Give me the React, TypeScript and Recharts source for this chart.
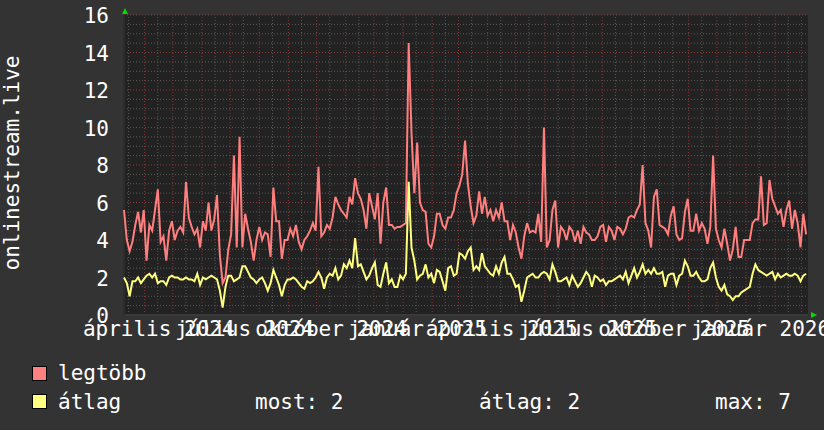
import React from "react";
import { LineChart, Line, XAxis, YAxis, CartesianGrid, ReferenceLine } from "recharts";

// ---- data (one sample every 3 days, starting 2024-03-10) ----
const STEP_DAYS = 3;

const legtobb = [
  5.6, 4.0, 3.4, 3.9, 4.8, 5.5, 4.4, 5.6, 2.9, 4.8,
  4.5, 5.6, 6.7, 3.9, 4.2, 2.9, 4.5, 5.0, 4.0, 4.5,
  4.7, 4.4, 7.1, 5.2, 4.7, 4.3, 4.6, 3.6, 5.0, 4.5,
  6.0, 4.5, 5.1, 6.4, 3.2, 1.7, 2.0, 3.5, 4.3, 8.5,
  3.6, 9.5, 3.6, 5.4, 4.6, 3.9, 2.9, 4.0, 4.7, 4.0,
  4.4, 4.3, 3.1, 6.8, 5.0, 5.0, 3.0, 4.0, 4.0, 4.6,
  4.2, 4.8, 3.9, 3.5, 4.0, 4.2, 4.5, 4.9, 4.5, 7.9,
  4.2, 4.4, 4.8, 4.6, 5.2, 6.3, 5.9, 5.6, 5.4, 5.2,
  6.3, 5.9, 7.3, 6.5, 6.2, 5.6, 4.6, 6.5, 5.8, 5.1,
  6.5, 3.8, 6.0, 6.8, 4.8, 4.8, 4.6, 4.7, 4.7, 4.8,
  4.9, 14.5, 9.7, 6.5, 9.2, 6.0, 5.6, 5.5, 3.8, 3.6,
  4.2, 5.4, 5.4, 4.8, 4.6, 5.2, 5.2, 5.6, 6.5, 6.9,
  7.5, 9.3, 7.0, 5.8, 4.9, 5.3, 6.6, 5.4, 6.3, 5.3,
  5.6, 5.0, 5.6, 5.2, 6.0, 5.0, 5.0, 4.0, 4.8, 4.4,
  3.6, 3.0, 4.2, 4.9, 4.4, 4.5, 4.4, 5.4, 3.9, 10.0,
  3.6, 4.0, 5.6, 6.1, 3.6, 4.7, 4.5, 4.0, 4.7, 4.5,
  3.9, 4.5, 3.8, 4.7, 4.4, 4.3, 4.0, 4.0, 4.2, 4.7,
  4.8, 3.9, 4.7, 4.5, 4.0, 4.7, 4.6, 4.3, 4.6, 5.2,
  5.3, 5.2, 5.6, 5.9, 8.0, 4.9, 4.5, 3.6, 6.3, 6.7,
  4.8, 4.7, 4.6, 4.3, 5.3, 5.8, 4.3, 4.0, 4.1, 5.5,
  6.2, 4.5, 4.5, 5.4, 4.5, 4.9, 4.6, 3.8, 4.7, 8.5,
  4.6, 4.0, 3.6, 4.6, 3.8, 2.9, 3.5, 4.7, 3.1, 3.1,
  4.0, 4.0, 4.0, 4.9, 5.1, 5.1, 7.4, 4.8, 4.9, 7.2,
  6.2, 5.8, 5.4, 5.6, 4.7, 5.6, 6.1, 4.6, 5.6, 4.9,
  3.6, 5.4, 4.3,
];

const atlag = [
  2.0, 1.7, 1.0, 1.8, 1.8, 2.0, 1.7, 1.9, 2.1, 2.2,
  2.0, 2.2, 1.7, 1.8, 1.8, 1.6, 2.0, 2.1, 2.0, 2.0,
  1.9, 1.9, 2.0, 1.9, 1.9, 1.8, 2.2, 1.6, 2.0, 1.9,
  2.0, 2.1, 2.0, 1.9, 1.3, 0.4, 1.5, 2.1, 2.1, 1.8,
  1.9, 2.0, 2.6, 2.6, 2.3, 2.0, 1.9, 1.7, 1.9, 2.0,
  1.7, 1.3, 1.7, 2.4, 2.0, 1.6, 1.0, 1.6, 1.9, 1.9,
  2.0, 1.9, 1.7, 1.5, 1.4, 1.8, 1.7, 1.8, 2.0, 2.3,
  2.0, 1.4, 2.0, 2.2, 2.1, 2.5, 1.9, 2.1, 2.7, 2.5,
  2.9, 2.5, 4.1, 2.6, 2.7, 2.3, 1.9, 2.1, 2.5, 2.8,
  1.6, 1.5, 2.2, 2.8, 1.7, 1.9, 1.5, 1.5, 2.1, 1.9,
  2.2, 7.1, 3.6, 2.9, 1.9, 2.1, 2.2, 2.7, 2.0, 2.2,
  1.7, 2.4, 2.3, 1.8, 1.3, 2.5, 2.6, 2.1, 2.2, 3.3,
  3.2, 3.0, 3.4, 3.6, 2.4, 2.6, 2.4, 3.3, 2.6, 2.4,
  2.2, 2.1, 2.6, 2.2, 2.8, 3.1, 2.2, 2.2, 1.9, 1.5,
  1.6, 0.7, 1.3, 2.0, 2.1, 2.2, 2.0, 2.0, 2.2, 2.3,
  2.2, 1.9, 2.7, 2.3, 1.8, 1.8, 1.9, 2.0, 1.6, 2.1,
  1.8, 1.5, 1.7, 2.0, 2.3, 2.1, 1.5, 2.1, 2.0, 1.8,
  1.9, 1.6, 1.8, 1.8, 1.9, 2.0, 2.1, 1.9, 2.3, 1.7,
  2.1, 2.5, 2.0, 2.3, 2.7, 2.2, 2.4, 2.2, 2.5, 2.2,
  2.2, 2.3, 1.5, 2.1, 2.2, 2.2, 1.6, 2.1, 2.2, 2.9,
  2.6, 2.1, 2.1, 2.3, 2.0, 1.8, 1.8, 1.9, 2.5, 2.8,
  2.0, 1.5, 1.3, 1.6, 1.1, 1.0, 0.8, 1.0, 1.0, 1.2,
  1.3, 1.4, 1.5, 2.2, 2.7, 2.4, 2.3, 2.2, 2.1, 2.2,
  2.3, 1.9, 2.2, 2.0, 2.1, 2.2, 2.1, 2.1, 2.2, 2.1,
  1.8, 2.1, 2.2,
];

// time axis (days since 2024-03-10)
const X_DOMAIN: [number, number] = [0, 728];
const monthStarts = [22, 52, 83, 113, 144, 175, 205, 236, 266, 297, 328, 356, 387, 417, 448, 478, 509, 540, 570, 601, 631, 662, 693, 721];
const midMonths = [5, 36, 66, 97, 127, 158, 189, 219, 250, 280, 311, 342, 370, 401, 431, 462, 492, 523, 554, 584, 615, 645, 676, 707];
const labelDays = [37, 128.5, 220.5, 312.5, 402, 493.5, 585.5, 677.5];
const labelTexts = ["április 2024", "július 2024", "október 2024", "január 2025", "április 2025", "július 2025", "október 2025", "január 2026"];

const yTicks = [0, 2, 4, 6, 8, 10, 12, 14, 16];
const yMajor = [2, 4, 6, 8, 10, 12, 14, 16];
const yMinor = [0.5, 1, 1.5, 2.5, 3, 3.5, 4.5, 5, 5.5, 6.5, 7, 7.5, 8.5, 9, 9.5, 10.5, 11, 11.5, 12.5, 13, 13.5, 14.5, 15, 15.5];

const legendItems = [
  { name: "legtöbb", color: "#ff8080" },
  { name: "átlag", color: "#ffff80" },
];
const stats = [
  { label: "most: 2" },
  { label: "átlag: 2" },
  { label: "max: 7" },
];

const data = legtobb.map((v, i) => ({ day: i * STEP_DAYS, legtobb: v, atlag: atlag[i] }));

const FONT = "'DejaVu Sans Mono', monospace";
const MINOR = "#5a5a5a";
const MAJOR = "#8a3838";

const XTick = (props: any) => {
  const { x, payload } = props;
  const idx = labelDays.indexOf(payload.value);
  return (
    <text x={x} y={336} textAnchor="middle" fill="#ffffff" fontSize={21} fontFamily={FONT}>
      {labelTexts[idx]}
    </text>
  );
};

const YTick = (props: any) => {
  const { y, payload } = props;
  return (
    <text x={109} y={y + 8} textAnchor="end" fill="#ffffff" fontSize={21} fontFamily={FONT}>
      {payload.value}
    </text>
  );
};

export default function App() {
  return (
    <div style={{ position: "absolute", left: 0, top: 0, width: 824, height: 430, background: "#333333", overflow: "hidden" }}>
      <LineChart width={824} height={430} data={data} margin={{ top: 15, right: 16, bottom: 0, left: 0 }}>
        <CartesianGrid fill="#222222" stroke="none" horizontal={false} vertical={false} />
        <XAxis
          type="number"
          dataKey="day"
          domain={X_DOMAIN}
          ticks={labelDays}
          interval={0}
          tick={<XTick />}
          tickLine={false}
          axisLine={false}
          height={115}
        />
        <YAxis
          type="number"
          domain={[0, 16]}
          ticks={yTicks}
          interval={0}
          tick={<YTick />}
          tickLine={false}
          axisLine={false}
          width={124}
        />
        {yMinor.map((v) => (
          <ReferenceLine key={"hm" + v} y={v} stroke={MINOR} strokeDasharray="1 2" strokeWidth={1} />
        ))}
        {midMonths.map((d) => (
          <ReferenceLine key={"vm" + d} x={d} stroke={MINOR} strokeDasharray="1 2" strokeWidth={1} />
        ))}
        {yMajor.map((v) => (
          <ReferenceLine key={"hM" + v} y={v} stroke={MAJOR} strokeDasharray="1 2" strokeWidth={1} />
        ))}
        {monthStarts.map((d) => (
          <ReferenceLine key={"vM" + d} x={d} stroke={MAJOR} strokeDasharray="1 2" strokeWidth={1} />
        ))}
        <ReferenceLine y={0} stroke="#3a3a3a" strokeWidth={2} />
        <ReferenceLine x={0} stroke="#2c2c2c" strokeWidth={2} />
        <Line type="linear" dataKey="legtobb" stroke="#ff7f7f" strokeWidth={2} dot={false} isAnimationActive={false} />
        <Line type="linear" dataKey="atlag" stroke="#ffff7f" strokeWidth={2} dot={false} isAnimationActive={false} />
      </LineChart>
      <svg width={824} height={430} style={{ position: "absolute", left: 0, top: 0, pointerEvents: "none" }}>
        <text
          x={18.5}
          y={163}
          transform="rotate(-90 18.5 163)"
          textAnchor="middle"
          fill="#ffffff"
          fontSize={21}
          fontFamily={FONT}
        >
          onlinestream.live
        </text>
        <polygon points="122,14 128,14 125,8" fill="#00dd00" />
        <polygon points="811,312 811,318 817,315" fill="#00dd00" />
        {legendItems.map((it, i) => (
          <g key={it.name}>
            <rect x={32.5} y={366.5 + i * 28} width={14} height={14} fill={it.color} stroke="#000000" strokeWidth={1} />
            <text x={58} y={380 + i * 29} fill="#ffffff" fontSize={21} fontFamily={FONT}>
              {it.name}
            </text>
          </g>
        ))}
        {stats.map((s, i) => (
          <text key={s.label} x={[255, 479, 715][i]} y={409} fill="#ffffff" fontSize={21} fontFamily={FONT}>
            {s.label}
          </text>
        ))}
      </svg>
    </div>
  );
}
